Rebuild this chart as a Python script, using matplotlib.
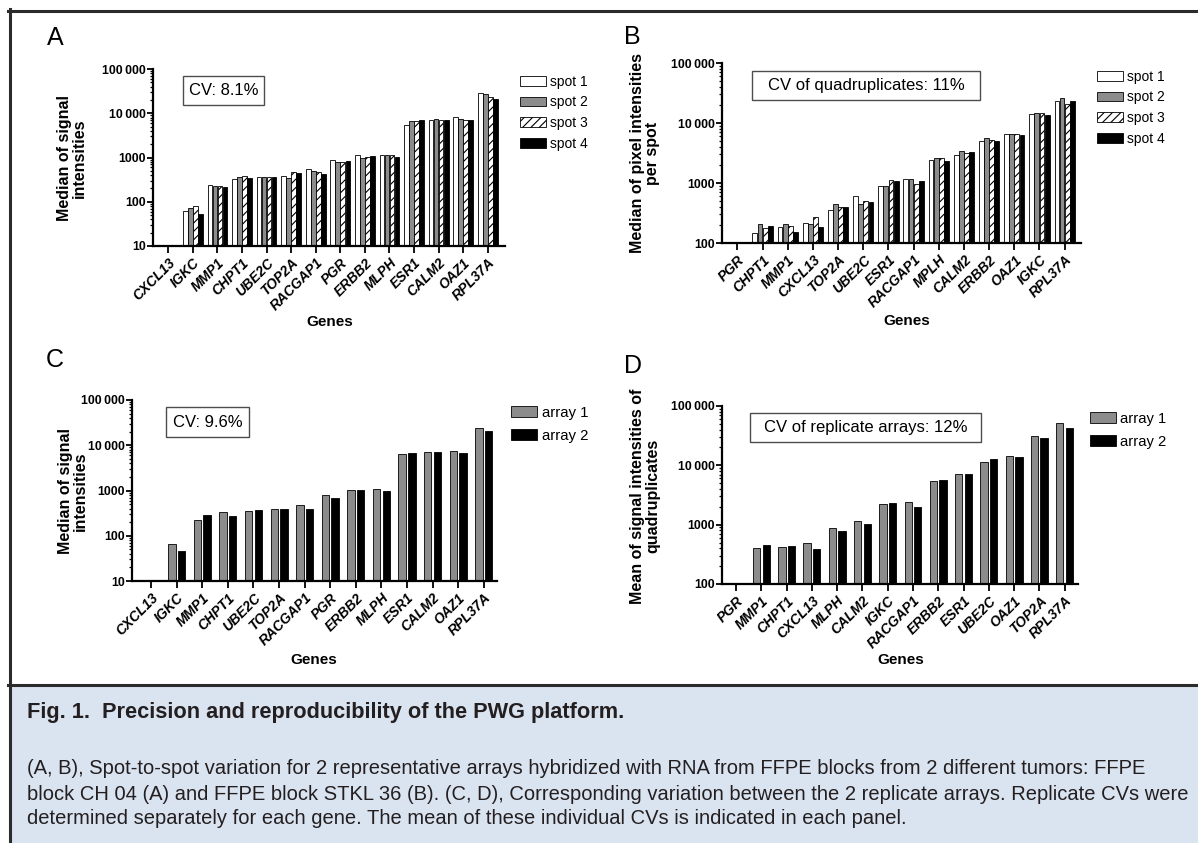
import numpy as np
import matplotlib
matplotlib.use('Agg')
import matplotlib.pyplot as plt
from matplotlib.patches import Rectangle
from matplotlib.lines import Line2D
from matplotlib.ticker import FixedLocator, LogLocator, FuncFormatter, NullFormatter

plt.rcParams['font.family'] = ['Liberation Sans', 'DejaVu Sans']
plt.rcParams['hatch.linewidth'] = 0.8

W, H = 1198, 843
nan = np.nan

# panel A / C gene order
genes_ac = ['CXCL13', 'IGKC', 'MMP1', 'CHPT1', 'UBE2C', 'TOP2A', 'RACGAP1',
            'PGR', 'ERBB2', 'MLPH', 'ESR1', 'CALM2', 'OAZ1', 'RPL37A']
spot1_a = [nan, 61, 237, 329, 372, 378, 553, 885, 1110, 1110, 5400, 7100, 8340, 29100]
spot2_a = [nan, 74, 224, 365, 360, 352, 499, 771, 1000, 1120, 6760, 7340, 7500, 26700]
spot3_a = [nan, 79, 232, 378, 372, 482, 466, 811, 1018, 1110, 6760, 6900, 7100, 22800]
spot4_a = [nan, 54, 217, 347, 360, 442, 434, 826, 1072, 1040, 7000, 7200, 7000, 20500]

genes_b = ['PGR', 'CHPT1', 'MMP1', 'CXCL13', 'TOP2A', 'UBE2C', 'ESR1',
           'RACGAP1', 'MPLH', 'CALM2', 'ERBB2', 'OAZ1', 'IGKC', 'RPL37A']
spot1_b = [nan, 147, 187, 215, 350, 600, 891, 1150, 2390, 2970, 5080, 6480, 13900, 23600]
spot2_b = [nan, 210, 205, 207, 441, 452, 891, 1150, 2640, 3370, 5700, 6560, 14500, 25800]
spot3_b = [nan, 178, 192, 271, 393, 508, 1120, 975, 2610, 3120, 5280, 6560, 14500, 20700]
spot4_b = [nan, 194, 153, 185, 398, 489, 1080, 1070, 2300, 3250, 5010, 6230, 13600, 23300]

array1_c = [nan, 65, 220, 343, 360, 393, 482, 802, 1035, 1090, 6370, 6930, 7300, 24400]
array2_c = [nan, 47, 289, 280, 380, 386, 386, 688, 1035, 967, 6590, 7060, 6820, 20900]

genes_d = ['PGR', 'MMP1', 'CHPT1', 'CXCL13', 'MLPH', 'CALM2', 'IGKC',
           'RACGAP1', 'ERBB2', 'ESR1', 'UBE2C', 'OAZ1', 'TOP2A', 'RPL37A']
array1_d = [nan, 408, 414, 489, 875, 1150, 2220, 2400, 5550, 7100, 11600, 14400, 31700, 51900]
array2_d = [nan, 448, 442, 383, 769, 1035, 2280, 2000, 5770, 7100, 12700, 13900, 29000, 42700]

spot_labels = ['spot 1', 'spot 2', 'spot 3', 'spot 4']
array_labels = ['array 1', 'array 2']
GRAY = '#8c8c8c'
spot_colors = ['white', GRAY, 'white', 'black']
spot_hatches = [None, None, '////', None]
array_colors = [GRAY, 'black']


def fx(x):
    return x / W


def fy(y):
    return 1 - y / H


def ytick_fmt(v, pos):
    v = int(round(v))
    if v >= 10000:
        return f'{v:,}'.replace(',', '\u2009')
    return str(v)


def draw_panel(fig, box, genes, series, colors, hatches, labels, ymin,
               xlim, width, step, leg_anchor, leg_size, leg_spacing,
               handle_w, handle_h):
    left, top, right, bottom = box
    ax = fig.add_axes([fx(left), fy(bottom), (right - left) / W, (bottom - top) / H])
    x = np.arange(len(genes))
    n = len(series)
    handles = []
    for i, vals in enumerate(series):
        off = (i - (n - 1) / 2) * step
        b = ax.bar(x + off, vals, width, color=colors[i], edgecolor='black',
                   linewidth=0.6, hatch=hatches[i], label=labels[i])
        handles.append(b)
    ax.set_yscale('log')
    ax.set_ylim(ymin, 100000)
    ax.set_xlim(*xlim)
    ax.yaxis.set_major_locator(FixedLocator([10 ** k for k in range(int(np.log10(ymin)), 6)]))
    ax.yaxis.set_minor_locator(LogLocator(base=10, subs=np.arange(2, 10)))
    ax.yaxis.set_major_formatter(FuncFormatter(ytick_fmt))
    ax.yaxis.set_minor_formatter(NullFormatter())
    ax.set_xticks(x)
    ax.set_xticklabels(genes, rotation=45, ha='right', va='top',
                       rotation_mode='anchor', fontsize=10,
                       fontweight='bold', fontstyle='italic')
    for lab in ax.get_yticklabels():
        lab.set_fontweight('bold')
        lab.set_fontsize(8.8)
    ax.tick_params(axis='y', which='major', length=4, width=1.3, pad=1)
    ax.tick_params(axis='y', which='minor', length=2.2, width=0.9)
    ax.tick_params(axis='x', which='major', length=5, width=1.3, pad=2)
    for s in ('top', 'right'):
        ax.spines[s].set_visible(False)
    for s in ('left', 'bottom'):
        ax.spines[s].set_linewidth(1.6)
    ax.legend(handles=handles, labels=labels, loc='upper left',
              bbox_to_anchor=leg_anchor, frameon=False, fontsize=leg_size,
              handlelength=handle_w, handleheight=handle_h, handletextpad=0.3,
              labelspacing=leg_spacing, borderpad=0, borderaxespad=0)
    return ax


def cv_box(fig, x0, y0, x1, y1, text):
    fig.add_artist(Rectangle((fx(x0), fy(y1)), (x1 - x0) / W, (y1 - y0) / H,
                             transform=fig.transFigure, facecolor='white',
                             edgecolor='#4d4d4d', linewidth=1.0))
    fig.text(fx((x0 + x1) / 2), fy((y0 + y1) / 2), text, ha='center',
             va='center', fontsize=12)


fig = plt.figure(figsize=(W / 100, H / 100), dpi=100)

# caption background and frame
fig.add_artist(Rectangle((fx(11), 0), 1 - fx(11), fy(686), transform=fig.transFigure,
                         facecolor='#dae3f0', edgecolor='none', zorder=0))
line_c = '#2b2b2b'
fig.add_artist(Line2D([fx(8), 1], [fy(10.5), fy(10.5)], color=line_c, lw=2.2))
fig.add_artist(Line2D([fx(9.5), fx(9.5)], [fy(9), 0], color=line_c, lw=2.2))
fig.add_artist(Line2D([fx(8), 1], [fy(684.5), fy(684.5)], color=line_c, lw=2.2))

# panel A
draw_panel(fig, (153, 69, 505, 246), genes_ac, [spot1_a, spot2_a, spot3_a, spot4_a],
           spot_colors, spot_hatches, spot_labels, 10, (-0.62, 13.7), 0.19, 0.205,
           (1.043, 0.968), 10, 0.48, 1.85, 0.7)
# panel B
draw_panel(fig, (722, 63, 1081, 243), genes_b, [spot1_b, spot2_b, spot3_b, spot4_b],
           spot_colors, spot_hatches, spot_labels, 100, (-0.61, 13.65), 0.19, 0.205,
           (1.045, 0.963), 10, 0.48, 1.85, 0.7)
# panel C
draw_panel(fig, (132, 400, 497, 581), genes_ac, [array1_c, array2_c],
           array_colors, [None, None], array_labels, 10, (-0.75, 13.52), 0.29, 0.38,
           (1.038, 0.968), 10.8, 0.6, 1.75, 0.72)
# panel D
draw_panel(fig, (722, 406, 1078, 584), genes_d, [array1_d, array2_d],
           array_colors, [None, None], array_labels, 100, (-0.56, 13.53), 0.29, 0.38,
           (1.034, 0.968), 10.6, 0.6, 1.75, 0.72)

cv_box(fig, 183, 76, 264, 105, 'CV: 8.1%')
cv_box(fig, 752, 71, 980, 100, 'CV of quadruplicates: 11%')
cv_box(fig, 166, 407, 249, 437, 'CV: 9.6%')
cv_box(fig, 750, 413, 981, 442, 'CV of replicate arrays: 12%')

# panel letters
for letter, (px, py) in zip('ABCD', [(47, 38), (624, 37), (46, 360), (624, 366)]):
    fig.text(fx(px), fy(py), letter, ha='left', va='center', fontsize=18)

# axis titles
ylabels = [('Median of signal\nintensities', 72, 158),
           ('Median of pixel intensities\nper spot', 645, 153),
           ('Median of signal\nintensities', 73, 491),
           ('Mean of signal intensities of\nquadruplicates', 645, 496)]
for txt, px, py in ylabels:
    fig.text(fx(px), fy(py), txt, rotation=90, ha='center', va='center',
             multialignment='center', fontsize=11.5, fontweight='bold', linespacing=1.05)
for px, py in [(330, 322), (907, 321), (314, 660), (901, 660)]:
    fig.text(fx(px), fy(py), 'Genes', ha='center', va='center', fontsize=11, fontweight='bold')

# caption
cap_color = '#231f20'
title = fig.text(fx(27), fy(718), 'Fig. 1.  Precision and reproducibility of the PWG platform.',
                 ha='left', va='baseline', fontsize=13, fontweight='bold', color=cap_color)
body_lines = [
    '(A, B), Spot-to-spot variation for 2 representative arrays hybridized with RNA from '
    'FFPE blocks from 2 different tumors: FFPE',
    'block CH 04 (A) and FFPE block STKL 36 (B). (C, D), Corresponding variation between '
    'the 2 replicate arrays. Replicate CVs were',
    'determined separately for each gene. The mean of these individual CVs is indicated '
    'in each panel.',
]
body = []
for txt, py in zip(body_lines, [773.5, 799.5, 824.5]):
    body.append(fig.text(fx(27), fy(py), txt, ha='left', va='baseline',
                         fontsize=12.5, color=cap_color))

# fit caption widths to the reference line lengths
renderer = fig.canvas.get_renderer()
w = title.get_window_extent(renderer).width
title.set_fontsize(title.get_fontsize() * (623 - 27) / w)
wmax = max(t.get_window_extent(renderer).width for t in body)
size = body[0].get_fontsize() * (1188 - 27) / wmax
for t in body:
    t.set_fontsize(size)

fig.savefig('out.png', dpi=100)
